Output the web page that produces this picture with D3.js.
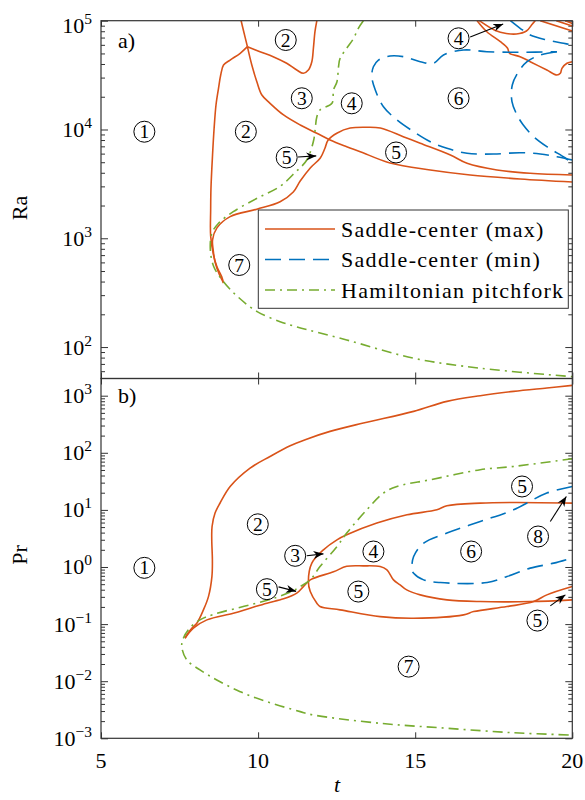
<!DOCTYPE html>
<html><head><meta charset="utf-8">
<script src="https://cdn.jsdelivr.net/npm/d3@7"></script>
<style>
body{margin:0;background:#fff}
svg{display:block}
svg text{font-family:"Liberation Serif","DejaVu Serif","Noto Serif",serif;fill:#000}
</style>
</head><body>
<svg id="c" width="585" height="800" font-family="Liberation Serif, DejaVu Serif, serif"></svg>
<script>
// ---------- data ----------
const tDomain = [5, 20];
const raDomain = [51.4, 1e5];
const prDomain = [1e-3, 2000];
const tTicks = [5, 10, 15, 20];
const raTicks = [1e2, 1e3, 1e4, 1e5];
const prTicks = [1e-3, 1e-2, 1e-1, 1e0, 1e1, 1e2, 1e3];

// Panel a) : Saddle-center (max)   [t, Ra]
const maxTopA = [[9.46,100000],[9.53,82100],[9.66,57700]];
const maxTopB = [[9.66,57700],[9.43,50200],[9.11,43500],[8.90,39100],[8.81,31700],[8.74,23900],[8.66,16800],[8.60,10250],[8.55,5830],[8.50,2880],[8.49,1820],[8.49,1050],[8.58,703],[8.69,548],[8.84,444],[8.90,388]];
const maxTopC = [[8.90,388],[8.76,470],[8.63,605],[8.57,781],[8.55,965],[8.69,1245],[9.11,1580],[9.96,1850],[10.70,2170],[11.12,2665],[11.34,3360],[11.66,4430],[11.98,5470],[12.13,6760],[12.23,8010],[12.52,9290],[12.93,10300],[13.46,10480],[13.89,10300],[14.62,8590],[15.16,7470],[16.12,5830],[16.65,4890],[17.60,4245],[18.66,3960],[20,3820]];
const maxTopD = [[9.66,57700],[9.80,39100],[9.96,27500],[10.12,20750],[10.38,17400],[10.81,13600],[11.34,11000],[11.87,9230],[12.29,8010],[12.82,6950],[13.25,6250],[14.20,4920],[15.48,4245],[16.75,3820],[18.34,3510],[20,3290]];
const maxTopE = [[9.66,57700],[10.06,51900],[10.48,46700],[10.91,40600],[11.23,35200],[11.44,32860],[11.60,35200],[11.71,42000],[11.76,55800],[11.81,79200],[11.87,100000]];
const maxTopF = [[16.97,100000],[17.28,79200],[17.71,64100],[17.94,55800],[18.00,50200],[18.34,46700],[18.66,42000],[19.19,35200],[19.51,31700],[19.62,32860],[19.67,36500],[19.83,40600],[20,42000]];
const maxTopG = [[17.04,100000],[17.55,81300],[17.90,76300],[18.22,75500],[18.54,80400],[18.73,93300],[18.82,100000]];
const maxTopH1 = [[18.98,100000],[20,80400]];
const maxTopH2 = [[19.49,100000],[20,89400]];
const maxTopH3 = [[19.78,100000],[20,94300]];

// Panel a) : Saddle-center (min)
const minTopA = [[20,5245],[19.51,5620],[18.98,5955],[18.34,6120],[17.49,5955],[16.65,6045],[16.01,6720],[15.48,7720],[14.95,9540],[14.42,12230],[13.99,16200],[13.73,23070],[13.62,30560],[13.67,37780],[13.83,43500],[14.20,47380],[14.63,46700],[15.16,42000],[15.58,40600],[15.90,48400],[16.54,53800],[17.28,51900],[18.34,51250],[19.51,51900]];
const minTopB = [[19.51,51900],[18.98,48400],[18.56,42000],[18.29,34000],[18.09,25650],[18.08,18010],[18.24,13600],[18.44,11000],[18.77,8590],[19.19,6950],[19.78,5470],[20,4920]];
const minTopC = [[18.03,100000],[18.34,85150],[18.66,73900],[19.19,66460],[19.72,61960],[20,59800]];

// Panel a) : Hamiltonian pitchfork
const hamTop = [[13.35,100000],[13.19,85150],[13.04,68900],[12.82,55800],[12.61,45130],[12.56,37780],[12.51,27500],[12.40,23070],[12.35,17400],[11.97,15110],[11.87,13120],[11.82,10250],[11.77,8010],[11.55,5245],[11.15,3950],[10.70,3000],[9.97,2333],[9.21,1756],[8.74,1374],[8.53,1112],[8.48,781],[8.59,548],[8.90,399],[9.36,289],[9.97,211.6],[10.70,171.2],[11.24,153],[12.82,116.2],[14.95,78.9],[17.07,63.9],[20,53.5]];

// Panel b) : Saddle-center (max)   [t, Pr]
const maxBotA = [[7.675,0.0566],[7.73,0.0647],[7.89,0.0848],[8.05,0.1037],[8.26,0.1774],[8.42,0.303],[8.53,0.68],[8.545,1.335],[8.525,2.99],[8.535,5.12],[8.63,8.79],[8.79,13.2],[9.11,25.7],[9.745,54],[10.38,86.3],[11.02,133],[11.5,170],[12.29,237],[13.35,332],[14.95,531],[16.01,795],[17.07,1000],[18.13,1190],[19.19,1365],[20,1515]];
const maxBotB = [[7.675,0.0566],[7.94,0.0848],[8.37,0.1186],[9.21,0.155],[9.745,0.19],[10.28,0.2325],[10.81,0.2767],[11.23,0.348],[11.44,0.4544],[11.66,0.595],[12.40,0.8225],[12.82,1.027],[13.35,1.047],[13.885,1.018],[14.10,0.8915],[14.31,0.595],[14.52,0.4866],[14.73,0.3977],[15.16,0.325],[16.01,0.2657],[17.07,0.248],[18.66,0.248],[20,0.2657]];
const maxBotC = [[20,13.16],[18.13,13.5],[17.07,13.16],[16.01,11.8],[15.69,10.04],[14.74,8.21],[13.78,5.87],[12.82,3.66],[12.51,2.99],[12.08,2.0],[11.71,1.168],[11.60,0.556],[11.66,0.3715],[11.87,0.2325],[11.97,0.2028],[12.61,0.1774],[13.885,0.1354],[14.95,0.1269],[16.54,0.145],[16.86,0.1656],[17.92,0.2028],[18.77,0.248],[19.19,0.325],[20,0.4544]];

// Panel b) : Saddle-center (min)
const minBot = [[20,25.7],[19.19,19.7],[18.13,10.04],[17.07,6.26],[16.01,3.92],[15.27,2.62],[14.95,1.525],[14.90,0.8915],[14.95,0.78],[15.27,0.595],[15.80,0.534],[17.29,0.534],[17.92,0.68],[18.66,0.955],[19.41,1.168],[20,1.447]];

// Panel b) : Hamiltonian pitchfork
const hamBot = [[20,78.6],[18.13,57.7],[17.07,50.5],[15.48,33.7],[14.42,25.7],[13.99,19.7],[13.46,10.04],[12.82,3.92],[12.51,2.283],[11.97,1.018],[11.66,0.595],[11.34,0.4544],[11.12,0.385],[10.60,0.296],[9.745,0.2171],[8.58,0.148],[8.15,0.1186],[7.83,0.0858],[7.62,0.0566],[7.57,0.0403],[7.73,0.0236],[8.15,0.01575],[8.685,0.01052],[9.43,0.00656],[10.28,0.00438],[11.34,0.00293],[11.76,0.00256],[13.885,0.00183],[16.01,0.0015],[18.13,0.00125],[20,0.00114]];

// region labels [number, t, value]
const topLabels = [[1,6.38,9540],[2,9.61,9540],[2,10.88,66460],[3,11.39,19360],[4,12.98,17400],[5,10.91,5530],[5,14.39,6146],[6,16.38,19360],[4,16.38,68900],[7,9.40,568]];
const botLabels = [[1,6.38,0.966],[2,9.99,5.59],[3,11.18,1.569],[4,13.67,1.866],[5,13.19,0.3715],[5,10.28,0.409],[6,16.78,1.866],[5,18.40,25.7],[8,18.91,3.42],[5,18.89,0.1152],[7,14.79,0.018]];
// arrows [t0, v0, t1, v1]
const topArrows = [[11.27,5588,11.85,5720],[16.75,70840,17.80,93300]];
const botArrows = [[11.55,1.569,12.08,1.70],[10.65,0.449,11.21,0.3745],[19.30,6.26,19.81,17.2],[19.30,0.2085,19.78,0.325]];

const legendNames = ["Saddle-center (max)", "Saddle-center (min)", "Hamiltonian pitchfork"];

// ---------- styles ----------
const FONT = "'Liberation Serif', 'DejaVu Serif', serif";
const C_MAX = "#D95319", C_MIN = "#0072BD", C_HAM = "#77AC30";
const styles = {
  max: {stroke: C_MAX, dash: null},
  min: {stroke: C_MIN, dash: "16,8"},
  ham: {stroke: C_HAM, dash: "10,5,2,5"}
};
const LW = 1.6;
const AX = "#333";

// ---------- layout ----------
const L = 101, R = 572.3;
const topY0 = 20.7, topY1 = 378.5, botY0 = 378.5, botY1 = 738.3;

const svg = d3.select("#c");
const x = d3.scaleLinear().domain(tDomain).range([L, R]);
const yRa = d3.scaleLog().domain(raDomain).range([topY1, topY0]);
const yPr = d3.scaleLog().domain(prDomain).range([botY1, botY0]);

function txt(sel){ return sel.append("text").attr("font-family",FONT).attr("fill","#000"); }

const defs = svg.append("defs");
defs.append("clipPath").attr("id","clipTop").append("rect")
  .attr("x",L).attr("y",topY0).attr("width",R-L).attr("height",topY1-topY0);
defs.append("clipPath").attr("id","clipBot").append("rect")
  .attr("x",L).attr("y",botY0).attr("width",R-L).attr("height",botY1-botY0);
defs.append("marker").attr("id","arr").attr("markerUnits","userSpaceOnUse")
  .attr("markerWidth",11).attr("markerHeight",9).attr("refX",10).attr("refY",4.5)
  .attr("orient","auto").append("path").attr("d","M0,0.5 L10,4.5 L0,8.5 L3,4.5 Z").attr("fill","#000");

function minorTicks(dom){
  const out=[];
  for(let k=Math.floor(Math.log10(dom[0]));k<=Math.ceil(Math.log10(dom[1]));k++){
    for(let m=2;m<=9;m++){const v=m*Math.pow(10,k); if(v>dom[0]*1.001 && v<dom[1]*0.999) out.push(v);}
  }
  return out;
}

function drawPanel(y, dom, ticks, y0, y1, clipId, curves, labels, arrows){
  const cleanup = g => { g.select(".domain").remove(); g.selectAll("line").attr("stroke",AX).attr("stroke-width",1); g.selectAll("text").remove(); };
  svg.append("g").attr("transform",`translate(${L},0)`).call(d3.axisLeft(y).tickValues(ticks).tickSize(-7).tickSizeOuter(0)).call(cleanup);
  svg.append("g").attr("transform",`translate(${L},0)`).call(d3.axisLeft(y).tickValues(minorTicks(dom)).tickSize(-4).tickSizeOuter(0)).call(cleanup);
  svg.append("g").attr("transform",`translate(${R},0)`).call(d3.axisRight(y).tickValues(ticks).tickSize(-7).tickSizeOuter(0)).call(cleanup);
  svg.append("g").attr("transform",`translate(${R},0)`).call(d3.axisRight(y).tickValues(minorTicks(dom)).tickSize(-4).tickSizeOuter(0)).call(cleanup);
  svg.append("g").attr("transform",`translate(0,${y1})`).call(d3.axisBottom(x).tickValues(tTicks).tickSize(-6).tickSizeOuter(0)).call(cleanup);
  svg.append("g").attr("transform",`translate(0,${y0})`).call(d3.axisTop(x).tickValues(tTicks).tickSize(-6).tickSizeOuter(0)).call(cleanup);

  ticks.forEach(v=>{
    const e = Math.round(Math.log10(v));
    const py = y(v);
    const shift = (py - y0 < 3) ? 5 : 0;   // topmost label sits slightly lower
    const t = txt(svg).attr("x",92).attr("y",py+7.5+shift).attr("text-anchor","end").attr("font-size",22);
    t.append("tspan").text("10");
    t.append("tspan").attr("dy",-9).attr("font-size",15.5).text(e<0 ? "\u2212"+(-e) : String(e));
  });

  const line = d3.line().x(d=>x(d[0])).y(d=>y(d[1])).curve(d3.curveCatmullRom.alpha(0.5));
  const cg = svg.append("g").attr("clip-path",`url(#${clipId})`);
  curves.forEach(([kind,data])=>{
    cg.append("path").attr("d",line(data)).attr("fill","none")
      .attr("stroke",styles[kind].stroke).attr("stroke-width",LW)
      .attr("stroke-dasharray",styles[kind].dash).attr("stroke-linejoin","round");
  });

  arrows.forEach(a=>{
    svg.append("line").attr("x1",x(a[0])).attr("y1",y(a[1])).attr("x2",x(a[2])).attr("y2",y(a[3]))
      .attr("stroke","#000").attr("stroke-width",1.1).attr("marker-end","url(#arr)");
  });

  labels.forEach(l=>{
    const g = svg.append("g").attr("transform",`translate(${x(l[1])},${y(l[2])})`);
    g.append("circle").attr("r",10.5).attr("fill","none").attr("stroke","#000").attr("stroke-width",1);
    txt(g).attr("text-anchor","middle").attr("y",6.6).attr("font-size",19.5).text(l[0]);
  });

  svg.append("rect").attr("x",L).attr("y",y0).attr("width",R-L).attr("height",y1-y0)
    .attr("fill","none").attr("stroke",AX).attr("stroke-width",1.2);
}

drawPanel(yRa, raDomain, raTicks, topY0, topY1, "clipTop",
  [["max",maxTopA],["max",maxTopB],["max",maxTopC],["max",maxTopD],["max",maxTopE],["max",maxTopF],["max",maxTopG],["max",maxTopH1],["max",maxTopH2],["max",maxTopH3],
   ["min",minTopA],["min",minTopB],["min",minTopC],["ham",hamTop]],
  topLabels, topArrows);

drawPanel(yPr, prDomain, prTicks, botY0, botY1, "clipBot",
  [["max",maxBotA],["max",maxBotB],["max",maxBotC],["min",minBot],["ham",hamBot]],
  botLabels, botArrows);

tTicks.forEach(v=>{
  txt(svg).attr("x",x(v)).attr("y",768).attr("text-anchor","middle").attr("font-size",22).text(v);
});

txt(svg).attr("transform","translate(27,208) rotate(-90)").attr("text-anchor","middle").attr("font-size",22).text("Ra");
txt(svg).attr("transform","translate(27,555) rotate(-90)").attr("text-anchor","middle").attr("font-size",22).text("Pr");
txt(svg).attr("x",337).attr("y",792).attr("text-anchor","middle").attr("font-size",22).attr("font-style","italic").text("t");

txt(svg).attr("x",118).attr("y",48).attr("font-size",22).text("a)");
txt(svg).attr("x",118).attr("y",403).attr("font-size",22).text("b)");

const lg = svg.append("g");
lg.append("rect").attr("x",258.3).attr("y",210).attr("width",310).attr("height",98.3)
  .attr("fill","#fff").attr("stroke",AX).attr("stroke-width",1);
["max","min","ham"].forEach((k,i)=>{
  const yy = 229 + i*30.5;
  lg.append("line").attr("x1",265).attr("x2",335).attr("y1",yy).attr("y2",yy)
    .attr("stroke",styles[k].stroke).attr("stroke-width",LW).attr("stroke-dasharray",styles[k].dash);
  txt(lg).attr("x",341).attr("y",yy+7.5).attr("font-size",22).attr("letter-spacing",1.3).text(legendNames[i]);
});
</script>
</body></html>
